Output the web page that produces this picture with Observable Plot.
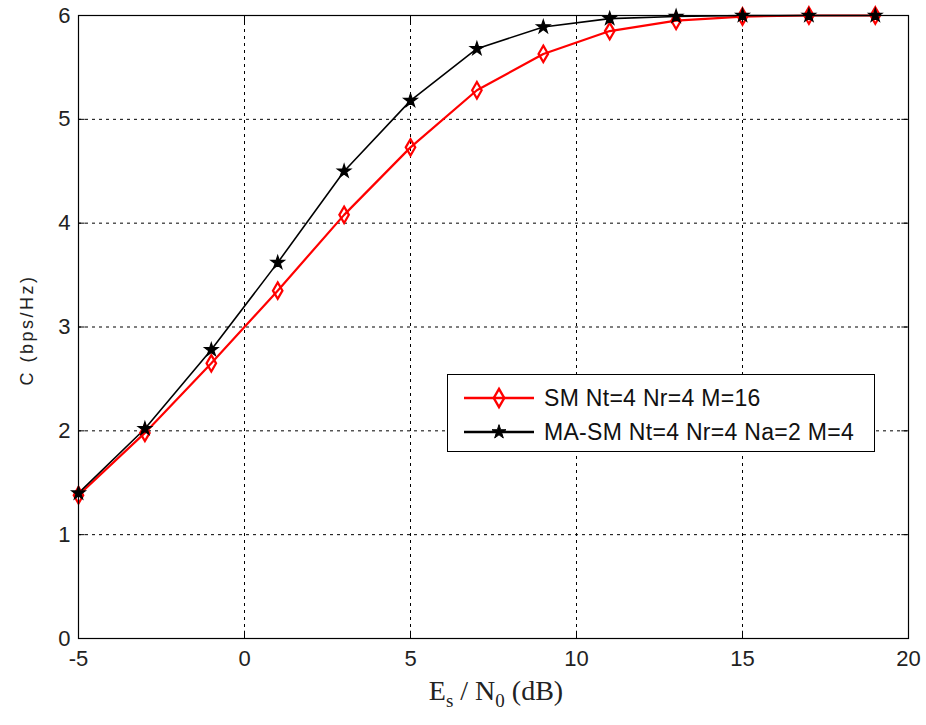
<!DOCTYPE html>
<html>
<head>
<meta charset="utf-8">
<script src="https://cdn.jsdelivr.net/npm/d3@7"></script>
<script src="https://cdn.jsdelivr.net/npm/@observablehq/plot@0.6"></script>
<style>
  body { margin: 0; background: #fff; }
  #wrap { position: relative; width: 926px; height: 725px; font-family: "Liberation Sans", Arial, sans-serif; }
  #legend { position: absolute; left: 447px; top: 374px; width: 428px; height: 78px; border: 1px solid #000; background: #fff; box-sizing: border-box; }
  .row { position: absolute; left: 14px; height: 30px; display: flex; align-items: center; font-size: 23px; letter-spacing: 0.3px; color: #111; white-space: nowrap; }
  .row svg { margin-right: 8px; }
  #xlabel { position: absolute; left: 0; width: 992px; top: 675px; text-align: center; font-family: "Liberation Serif", "Times New Roman", serif; font-size: 28px; color: #222; }
  #xlabel sub { font-size: 19px; }
  #ylabel { position: absolute; left: 27px; top: 330px; transform: translate(-50%, -50%) rotate(-90deg); font-size: 18px; letter-spacing: 2.5px; color: #222; white-space: nowrap; }
</style>
</head>
<body>
<div id="wrap"></div>
<script>
const snr = [-5, -3, -1, 1, 3, 5, 7, 9, 11, 13, 15, 17, 19];
const smValues = [1.38, 1.98, 2.65, 3.35, 4.08, 4.73, 5.28, 5.63, 5.85, 5.95, 5.99, 6.0, 6.0];
const masmValues = [1.40, 2.02, 2.78, 3.62, 4.50, 5.18, 5.68, 5.89, 5.97, 5.99, 6.0, 6.0, 6.0];
const seriesNames = ["SM Nt=4 Nr=4 M=16", "MA-SM Nt=4 Nr=4 Na=2 M=4"];
const xTicks = [-5, 0, 5, 10, 15, 20];
const yTicks = [0, 1, 2, 3, 4, 5, 6];
const xLabel = "E<sub>s</sub> / N<sub>0</sub> (dB)";
const yLabel = "C (bps/Hz)";

const sm = snr.map((x, i) => ({x, y: smValues[i]}));
const masm = snr.map((x, i) => ({x, y: masmValues[i]}));

const plot = Plot.plot({
  width: 926,
  height: 725,
  marginLeft: 78,
  marginRight: 18,
  marginTop: 15,
  marginBottom: 87,
  style: {fontFamily: "Liberation Sans, Arial, sans-serif", background: "#fff"},
  x: {domain: [-5, 20]},
  y: {domain: [0, 6]},
  marks: [
    Plot.gridX(xTicks.slice(1, -1), {stroke: "#000", strokeOpacity: 1, strokeDasharray: "3,4", strokeWidth: 1}),
    Plot.gridY(yTicks.slice(1, -1), {stroke: "#000", strokeOpacity: 1, strokeDasharray: "3,4", strokeWidth: 1}),
    Plot.ruleX(xTicks, {y1: 0, y2: 0.07, stroke: "#000"}),
    Plot.ruleX(xTicks, {y1: 6, y2: 5.93, stroke: "#000"}),
    Plot.ruleY(yTicks, {x1: -5, x2: -4.8, stroke: "#000"}),
    Plot.ruleY(yTicks, {x1: 20, x2: 19.8, stroke: "#000"}),
    Plot.axisX(xTicks, {tickSize: 0, tickPadding: 12, fontSize: 22, fill: "#222", label: null, tickFormat: d => String(d)}),
    Plot.axisY(yTicks, {tickSize: 0, tickPadding: 8, fontSize: 22, fill: "#222", label: null, tickFormat: d => String(d)}),
    Plot.line(sm, {x: "x", y: "y", stroke: "#ff0000", strokeWidth: 2.2}),
    Plot.line(masm, {x: "x", y: "y", stroke: "#000", strokeWidth: 1.6}),
    Plot.dot(sm, {x: "x", y: "y", symbol: "diamond", r: 5, stroke: "#ff0000", strokeWidth: 2.2, fill: "none"}),
    Plot.dot(masm, {x: "x", y: "y", symbol: "star", r: 4.2, fill: "#000", stroke: "#000", strokeWidth: 1.2}),
    Plot.frame({stroke: "#000", strokeWidth: 1.2})
  ]
});

const wrap = document.getElementById("wrap");
wrap.appendChild(plot);

const xl = document.createElement("div");
xl.id = "xlabel";
xl.innerHTML = xLabel;
wrap.appendChild(xl);

const yl = document.createElement("div");
yl.id = "ylabel";
yl.textContent = yLabel;
wrap.appendChild(yl);

const legend = document.createElement("div");
legend.id = "legend";
const diamond = d3.symbol(d3.symbolDiamond, 5.5 * 5.5 * Math.PI)();
const star = d3.symbol(d3.symbolStar, 4.4 * 4.4 * Math.PI)();
legend.innerHTML = `
  <div class="row" style="top:8px">
    <svg width="74" height="24"><line x1="2" x2="72" y1="12" y2="12" stroke="#ff0000" stroke-width="2.4"/>
    <path d="${diamond}" transform="translate(37,12)" fill="none" stroke="#ff0000" stroke-width="2.4"/></svg>
    <span>${seriesNames[0]}</span>
  </div>
  <div class="row" style="top:42px">
    <svg width="74" height="24"><line x1="2" x2="72" y1="12" y2="12" stroke="#000" stroke-width="2.4"/>
    <path d="${star}" transform="translate(37,12)" fill="#000" stroke="#000"/></svg>
    <span>${seriesNames[1]}</span>
  </div>`;
wrap.appendChild(legend);
</script>
</body>
</html>
